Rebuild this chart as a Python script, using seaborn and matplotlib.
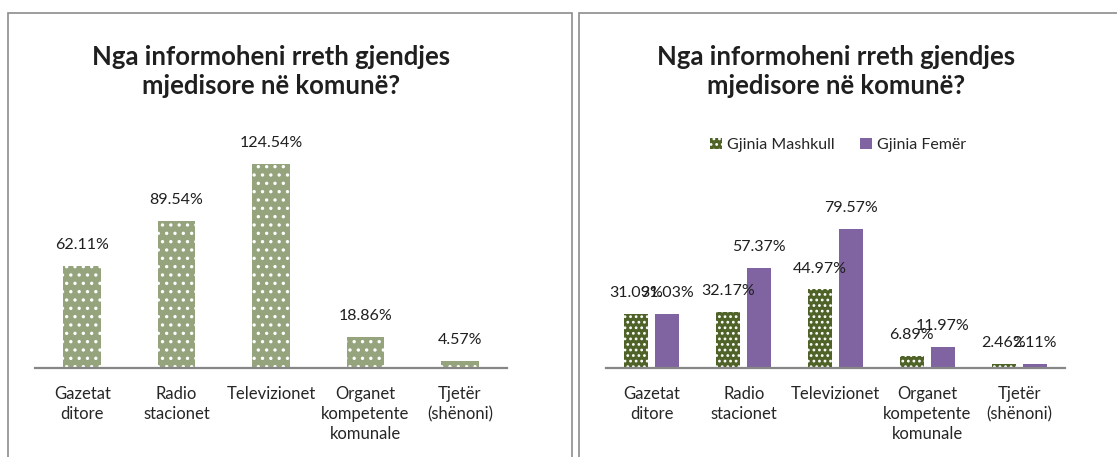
import matplotlib
matplotlib.use("Agg")
import matplotlib.pyplot as plt
import seaborn as sns
import pandas as pd
from matplotlib.patches import Patch, Rectangle

# ---- data ----
categories = ["Gazetat\nditore", "Radio\nstacionet", "Televizionet",
              "Organet\nkompetente\nkomunale", "Tjetër\n(shënoni)"]
total_values = [62.11, 89.54, 124.54, 18.86, 4.57]
male_values = [31.09, 32.17, 44.97, 6.89, 2.46]
female_values = [31.03, 57.37, 79.57, 11.97, 2.11]
series_names = ["Gjinia Mashkull", "Gjinia Femër"]
chart_title = "Nga informoheni rreth gjendjes\nmjedisore në komunë?"

sns.set_theme(style="white")
plt.rcParams["font.family"] = ["Lato", "DejaVu Sans"]
plt.rcParams["hatch.color"] = "white"
plt.rcParams["hatch.linewidth"] = 1.2

W, H = 1117, 457
fig = plt.figure(figsize=(W / 100, H / 100), dpi=100)

def px_axes(x0, x1, ytop, ybot):
    return fig.add_axes([x0 / W, 1 - ybot / H, (x1 - x0) / W, (ybot - ytop) / H])

# panel borders
fig.add_artist(Rectangle((8 / W, -0.05), (572 - 8) / W, 1.05 - 13 / H,
                         transform=fig.transFigure, fill=False,
                         edgecolor="#8c8c8c", linewidth=1.2))
fig.add_artist(Rectangle((579 / W, -0.05), 0.5, 1.05 - 13 / H,
                         transform=fig.transFigure, fill=False,
                         edgecolor="#8c8c8c", linewidth=1.2))

text_color = "#1f1f1f"
tick_color = "#262626"
green_light = "#96a47e"
green_dark = "#4f6228"
purple = "#8064a2"

# ---- left chart ----
ax1 = px_axes(35, 507, 150, 368)
df1 = pd.DataFrame({"cat": categories, "val": total_values})
sns.barplot(data=df1, x="cat", y="val", ax=ax1, color=green_light,
            width=0.4, saturation=1)
for p in ax1.patches:
    p.set_hatch("..")
    p.set_edgecolor("white")
    p.set_linewidth(0)
for c in ax1.containers:
    ax1.bar_label(c, labels=[f"{v:.2f}%" for v in total_values],
                  padding=10, fontsize=11.5, color=text_color)
ax1.set_ylim(0, 218 / 1.638)

# ---- right chart ----
ax2 = px_axes(606, 1065, 150, 368)
df2 = pd.DataFrame({
    "cat": categories * 2,
    "val": male_values + female_values,
    "ser": [series_names[0]] * len(categories) + [series_names[1]] * len(categories),
})
sns.barplot(data=df2, x="cat", y="val", hue="ser", ax=ax2,
            palette=[green_dark, purple], width=0.675, gap=0.23,
            saturation=1, legend=False)
for p in ax2.containers[0]:
    p.set_hatch("...")
    p.set_edgecolor("white")
    p.set_linewidth(0)
for p in ax2.containers[1]:
    p.set_linewidth(0)
for c, vals in zip(ax2.containers, [male_values, female_values]):
    ax2.bar_label(c, labels=[f"{v:.2f}%" for v in vals],
                  padding=10, fontsize=11.5, color=text_color)
ax2.set_ylim(0, 218 / 1.747)

handles = [Patch(facecolor=green_dark, edgecolor="white", hatch="...", linewidth=0,
                 label=series_names[0]),
           Patch(facecolor=purple, linewidth=0, label=series_names[1])]
fig.legend(handles=handles, loc="center", bbox_to_anchor=(838 / W, 1 - 145 / H),
           ncol=2, frameon=False, fontsize=11.5, handlelength=0.75,
           handleheight=0.75, handletextpad=0.3, columnspacing=1.6,
           labelcolor=tick_color)

for ax, xc in [(ax1, 271), (ax2, 836)]:
    ax.set_xlabel("")
    ax.set_ylabel("")
    ax.set_yticks([])
    for s in ["top", "right", "left"]:
        ax.spines[s].set_visible(False)
    ax.spines["bottom"].set_color("#868686")
    ax.spines["bottom"].set_linewidth(1.6)
    ax.tick_params(axis="x", length=0, pad=13, labelsize=12, colors=tick_color)
    for lbl in ax.get_xticklabels():
        lbl.set_linespacing(1.32)
    ax.set_facecolor("none")
    fig.text(xc / W, 1 - 71.5 / H, chart_title, ha="center", va="center",
             fontsize=18.5, fontweight="bold", color=text_color, linespacing=1.28)

fig.savefig("out.png", dpi=100)
